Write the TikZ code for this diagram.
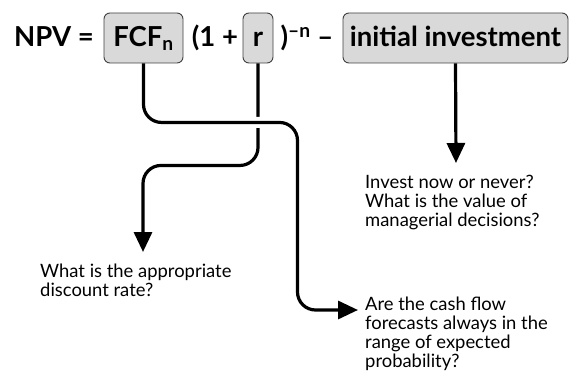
\documentclass[tikz,border=0pt]{standalone}
\usepackage{fontspec}
\setmainfont{Lato}
\usetikzlibrary{arrows.meta,positioning}

\tikzset{
  term/.style={draw=black!75, fill=black!15, rounded corners=6pt, line width=0.9pt,
    minimum height=50pt, inner sep=0pt, text height=20pt, text depth=2pt, anchor=base,
    font=\fontsize{27.5}{32}\selectfont\bfseries},
  plain/.style={inner sep=0pt, anchor=base, font=\fontsize{27.5}{32}\selectfont\bfseries},
  flow/.style={line width=3.2pt, rounded corners=18pt},
  tip/.style={-{Triangle[length=20pt,width=18pt]}},
  note/.style={inner sep=0pt, anchor=north west, align=left,
    font=\fontsize{18.4}{19}\selectfont},
}

\begin{document}
\begin{tikzpicture}[x=1pt,y=1pt]
\useasboundingbox (0,0) rectangle (570,-390);

% the formula
\node[plain] (npv) at (54,-47) {NPV =};
\node[term, minimum width=79pt] (fcf) at (143.5,-47) {FCF\textsubscript{n}};
\node[plain] (open) at (215,-47) {(1 +};
\node[term, minimum width=30pt] (rate) at (258,-47) {r};
\node[plain] (close) at (307,-47) {)\textsuperscript{–n} –};
\node[term, minimum width=225pt] (inv) at (455.5,-47) {initial investment};

% questions
\node[note] (invest) at (365,-175) {Invest now or never?\\What is the value of\\managerial decisions?};
\node[note] (discount) at (40,-264) {What is the appropriate\\discount rate?};
\node[note] (cash) at (365,-297) {Are the cash flow\\forecasts always in the\\range of expected\\probability?};

\coordinate (rateend) at (143,-252);
\coordinate (cashend) at (358,-310);
\coordinate (investend) at (456,-163);

\draw[flow, tip] (rate.south) -- ++(0,-102) -| (rateend);
\draw[flow, tip, preaction={draw, white, line width=11pt, -, shorten <=2pt}]
  (fcf.south) -- ++(0,-59) -- ++(154,0) |- (cashend);
\draw[line width=3.2pt, tip] (inv.south) -- (investend);
\end{tikzpicture}
\end{document}
